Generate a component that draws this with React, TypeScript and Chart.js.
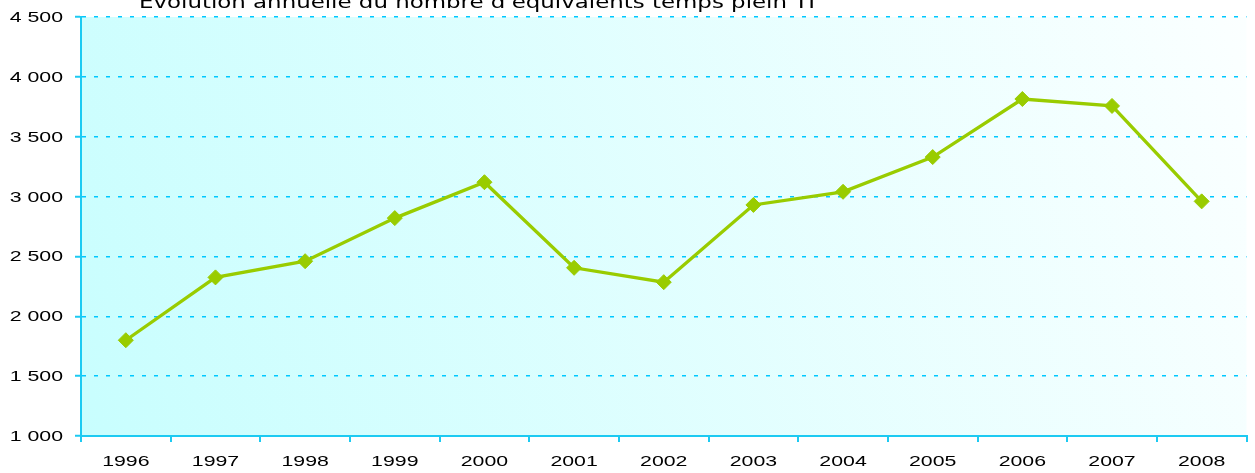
import React, { useEffect, useRef } from "react";
import { Chart, registerables } from "chart.js";

Chart.register(...registerables);

const title = "Evolution annuelle du nombre d'équivalents temps plein TI";
const years = ["1996", "1997", "1998", "1999", "2000", "2001", "2002", "2003", "2004", "2005", "2006", "2007", "2008"];
const etp = [1800, 2325, 2460, 2820, 3120, 2405, 2285, 2930, 3040, 3330, 3815, 3757, 2960];
const yMin = 1000;
const yMax = 4500;
const yStep = 500;

const fmt = (v: number) => {
  const s = Math.round(v).toString();
  return s.replace(/\B(?=(\d{3})+(?!\d))/g, " ");
};

const STRETCH = 1.42;
const LABEL_FONT = "15px 'Liberation Sans', Arial";

const drawStretched = (ctx: CanvasRenderingContext2D, text: string, x: number, y: number, align: "left" | "center" | "right", sx: number) => {
  const w = ctx.measureText(text).width * sx;
  let left = x;
  if (align === "center") left = x - w / 2;
  else if (align === "right") left = x - w;
  ctx.save();
  ctx.translate(left, y);
  ctx.scale(sx, 1);
  ctx.textAlign = "left";
  ctx.fillText(text, 0, 0);
  ctx.restore();
};

const bgPlugin = {
  id: "bgGradient",
  beforeDraw(chart: any) {
    const { ctx, chartArea: a } = chart;
    const g2 = ctx.createLinearGradient(a.left, a.bottom, a.right, a.top);
    g2.addColorStop(0, "#c8fefe");
    g2.addColorStop(1, "#fbffff");
    ctx.save();
    ctx.fillStyle = g2;
    ctx.fillRect(a.left, a.top, a.right - a.left, a.bottom - a.top);
    ctx.restore();
  },
  afterDraw(chart: any) {
    const { ctx } = chart;
    ctx.save();
    ctx.fillStyle = "#000";
    ctx.textBaseline = "alphabetic";
    // title
    ctx.font = "17px 'DejaVu Sans'";
    const tw = ctx.measureText(title).width;
    drawStretched(ctx, title, 139, 8, "left", 676 / tw);
    // x labels
    ctx.font = LABEL_FONT;
    const xs = chart.scales.x;
    xs.ticks.forEach((t: any, i: number) => {
      const lbl = years[t.value] ?? String(t.label);
      drawStretched(ctx, lbl, xs.getPixelForTick(i), 466, "center", STRETCH);
    });
    // y labels
    const ys = chart.scales.y;
    ys.ticks.forEach((t: any) => {
      drawStretched(ctx, fmt(t.value), 63, ys.getPixelForValue(t.value) + 5, "right", STRETCH);
    });
    ctx.restore();
  },
};

export default function App() {
  const ref = useRef<HTMLCanvasElement>(null);
  useEffect(() => {
    const axisColor = "#1ccaf2";
    const chart = new Chart(ref.current!, {
      type: "line",
      data: {
        labels: years,
        datasets: [
          {
            data: etp,
            borderColor: "#99cc00",
            backgroundColor: "#99cc00",
            borderWidth: 3.3,
            pointStyle: "rectRot",
            pointRadius: 7.5,
            pointBorderWidth: 1,
            pointBorderColor: "#99cc00",
            pointBackgroundColor: "#99cc00",
            tension: 0,
          },
        ],
      },
      options: {
        animation: false,
        responsive: false,
        maintainAspectRatio: false,
        layout: { padding: { top: 17, right: 0, left: 0, bottom: 0 } },
        plugins: { legend: { display: false }, tooltip: { enabled: false }, title: { display: false } },
        scales: {
          x: {
            offset: true,
            grid: {
              offset: true,
              drawOnChartArea: false,
              drawTicks: true,
              tickLength: 6,
              color: axisColor,
              lineWidth: 2,
            },
            border: { display: true, color: axisColor, width: 2 },
            ticks: { display: false, autoSkip: false, maxRotation: 0 },
            afterFit(s: any) {
              s.height = 37;
            },
          },
          y: {
            min: yMin,
            max: yMax,
            grid: {
              color: "#00c8ff",
              lineWidth: 1.5,
              drawTicks: true,
              tickLength: 6,
              tickColor: axisColor,
              tickWidth: 2,
              tickBorderDash: [],
            },
            border: { display: true, color: axisColor, width: 2, dash: [4, 8] },
            ticks: { display: false, stepSize: yStep },
            afterFit(s: any) {
              s.width = 81;
            },
          },
        },
      },
      plugins: [bgPlugin],
    });
    return () => chart.destroy();
  }, []);
  return (
    <div style={{ position: "fixed", left: 0, top: 0, width: 1255, height: 473, background: "#fff" }}>
      <canvas ref={ref} width={1255} height={473} style={{ width: 1255, height: 473, display: "block" }} />
    </div>
  );
}
